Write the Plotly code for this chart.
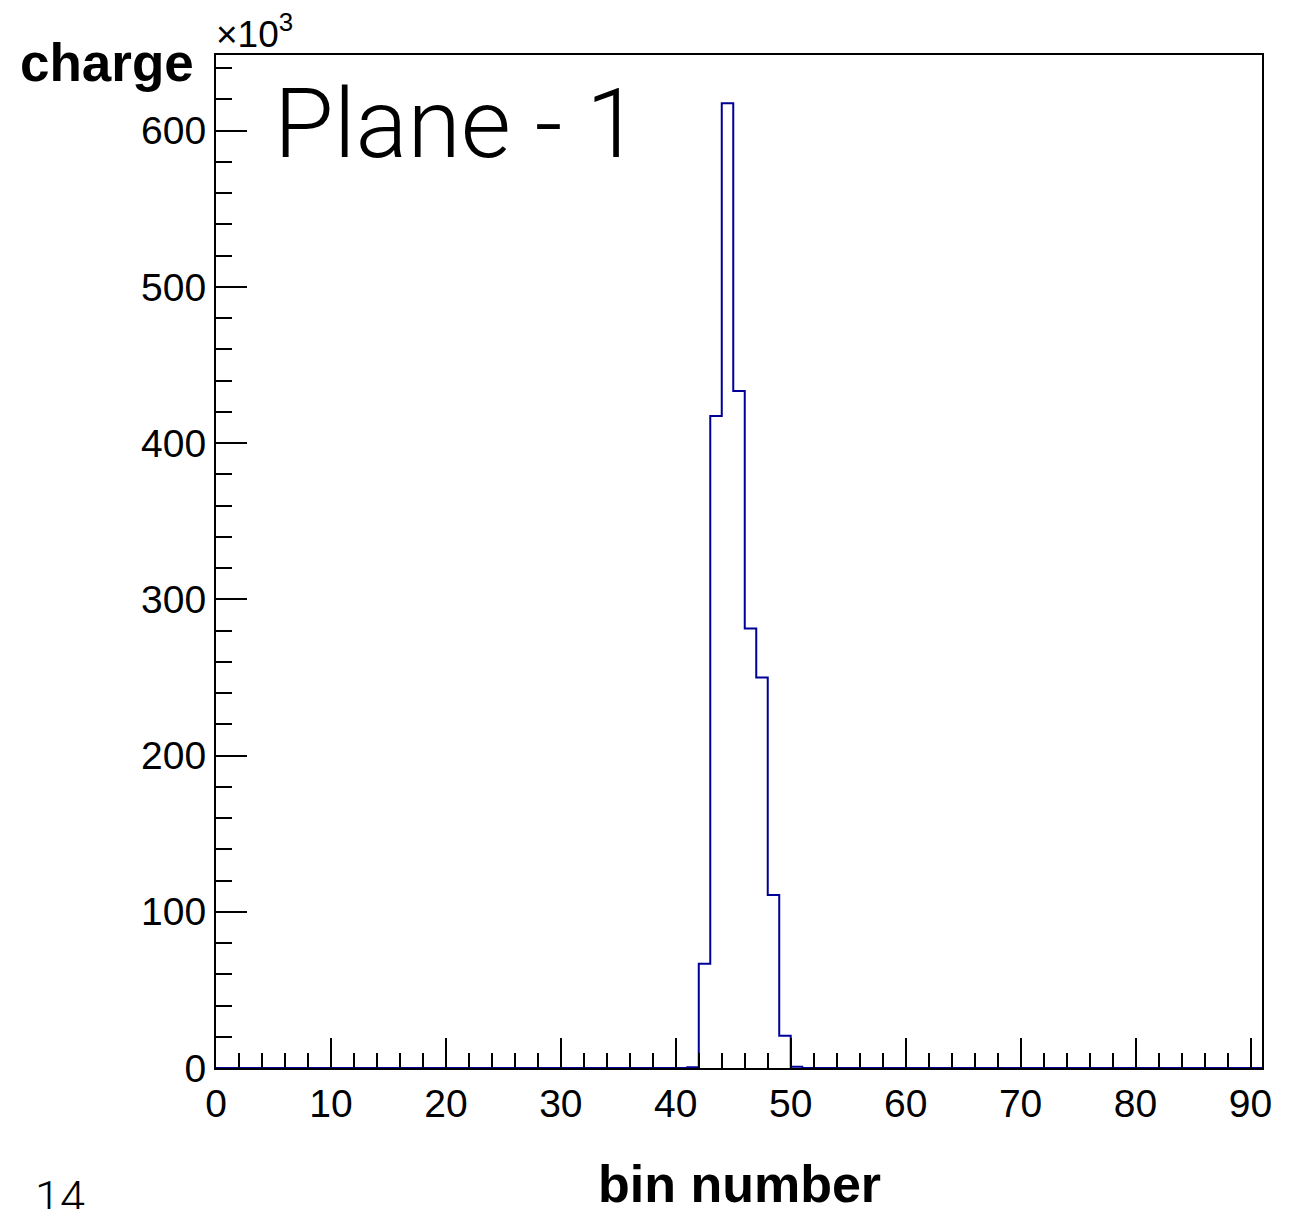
import plotly.graph_objects as go

# histogram: 91 bins of width 1 from 0 to 91, only a few bins are filled
n_bins = 91
filled_bins = [41, 42, 43, 44, 45, 46, 47, 48, 49, 50]
charge = [500, 66700, 417300, 617500, 433300, 281300, 249900, 110700, 20700, 800]

counts = [0.0] * n_bins
for b, c in zip(filled_bins, charge):
    counts[b] = c / 1e3  # axis is drawn in units of 10^3

edges = list(range(n_bins + 1))
x_step = edges
y_step = counts + [counts[-1]]

fig = go.Figure()
fig.add_trace(go.Scatter(x=x_step, y=y_step, mode="lines",
                         line=dict(shape="hv", color="#000099", width=2),
                         showlegend=False, hoverinfo="skip"))

tick_font = dict(family="Liberation Sans, Arial, sans-serif", size=39, color="black")
fig.update_xaxes(range=[0, 91], showline=True, linecolor="black", linewidth=2, mirror=True,
                 ticks="inside", ticklen=30, tickwidth=2, tickcolor="black",
                 tick0=0, dtick=10, showgrid=False, zeroline=False, tickfont=tick_font,
                 minor=dict(ticks="inside", dtick=2, tick0=0, ticklen=15, tickwidth=2,
                            tickcolor="black", showgrid=False))
fig.update_yaxes(range=[0, 648.4], showline=True, linecolor="black", linewidth=2, mirror=True,
                 ticks="inside", ticklen=31, tickwidth=2, tickcolor="black",
                 tick0=0, dtick=100, showgrid=False, zeroline=False, tickfont=tick_font,
                 minor=dict(ticks="inside", dtick=20, tick0=0, ticklen=16, tickwidth=2,
                            tickcolor="black", showgrid=False))

fig.update_layout(
    width=1301, height=1209,
    margin=dict(l=216, r=39, t=55, b=141),
    plot_bgcolor="white", paper_bgcolor="white",
    annotations=[
        dict(text="<b>charge</b>", xref="paper", yref="paper", x=-0.019, y=0.993,
             xanchor="right", yanchor="middle", showarrow=False,
             font=dict(family="Liberation Sans, Arial", size=53, color="black")),
        dict(text="<b>bin number</b>", xref="paper", yref="paper", x=0.5, y=-0.084,
             xanchor="center", yanchor="top", showarrow=False,
             font=dict(family="Liberation Sans, Arial", size=52, color="black")),
        dict(text="×10<sup>3</sup>", xref="paper", yref="paper", x=-0.002, y=0.998,
             xanchor="left", yanchor="bottom", showarrow=False,
             font=dict(family="Liberation Sans, Arial", size=37, color="black")),
        dict(text="Plane - 1", xref="paper", yref="paper", x=0.054, y=0.99,
             xanchor="left", yanchor="top", showarrow=False,
             font=dict(family="Roboto", size=97, color="black", weight=300)),
        dict(text="14", xref="paper", yref="paper", x=-0.175, y=-0.1,
             xanchor="left", yanchor="top", showarrow=False,
             font=dict(family="Roboto", size=45, color="black", weight=300)),
    ],
)

fig.write_html("out.html", config={"displayModeBar": False},
               post_script="document.body.style.margin='0';")
